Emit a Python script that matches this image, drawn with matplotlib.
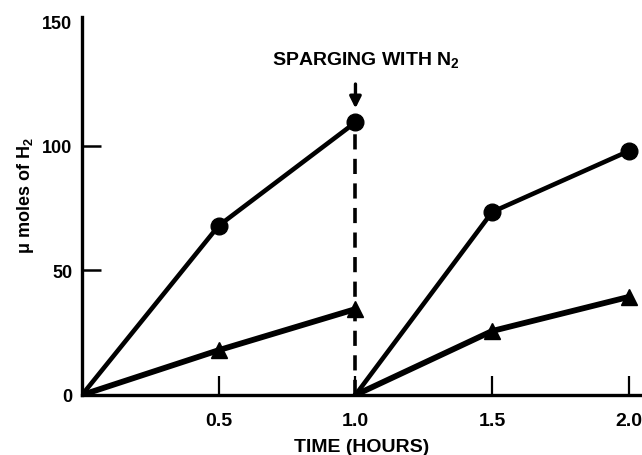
import matplotlib
matplotlib.use("Agg")
import matplotlib.pyplot as plt

# Datos (µmoles de H2 frente al tiempo en horas)
t_fase1 = [0.0, 0.5, 1.0]
t_fase2 = [1.0, 1.5, 2.0]
circ_fase1 = [0, 68, 109.5]
circ_fase2 = [0, 73.5, 98]
tri_fase1 = [0, 18, 34.5]
tri_fase2 = [0, 25.7, 39.4]

x_ticks = [0.5, 1.0, 1.5, 2.0]
x_tick_labels = ["0.5", "1.0", "1.5", "2.0"]
y_ticks = [0, 50, 100, 150]
t_sparging = 1.0

plt.rcParams['font.family'] = ['Liberation Sans', 'DejaVu Sans']
plt.rcParams['font.weight'] = 'bold'
plt.rcParams['mathtext.default'] = 'regular'

fig = plt.figure(figsize=(6.42, 4.56), dpi=100)
ax = fig.add_axes([0.1277, 0.1316, 0.869, 0.830])

# Curvas: líneas desde el origen, marcadores solo en los puntos medidos
for t, y in [(t_fase1, circ_fase1), (t_fase2, circ_fase2)]:
    ax.plot(t, y, color='black', lw=3.3, solid_capstyle='round', zorder=3)
    ax.plot(t[1:], y[1:], 'o', color='black', ms=12, clip_on=False, zorder=4)
for t, y in [(t_fase1, tri_fase1), (t_fase2, tri_fase2)]:
    ax.plot(t, y, color='black', lw=4.2, solid_capstyle='round', zorder=3)
    ax.plot(t[1:], y[1:], '^', color='black', ms=11, clip_on=False, zorder=4)

# Línea discontinua del burbujeo con N2
ax.plot([t_sparging, t_sparging], [0, circ_fase1[-1]], color='black',
        lw=2.6, dashes=(4.2, 2.6), zorder=2)
ax.annotate("", xy=(t_sparging, 114), xytext=(t_sparging, 126),
            arrowprops=dict(arrowstyle='-|>', color='black', lw=2.4,
                            mutation_scale=17))
ax.text(1.04, 135, "SPARGING WITH N$_2$", ha='center', va='center',
        fontsize=14, fontweight='bold')

ax.set_xlim(0, 2.04)
ax.set_ylim(0, 152)

for side in ['top', 'right']:
    ax.spines[side].set_visible(False)
for side in ['left', 'bottom']:
    ax.spines[side].set_linewidth(2.4)

ax.set_xticks(x_ticks)
ax.set_xticklabels(x_tick_labels)
ax.set_yticks(y_ticks)
ax.tick_params(axis='x', direction='in', length=14, width=1.6, pad=12,
               labelsize=14)
ax.tick_params(axis='y', direction='in', length=14, width=1.8, pad=7,
               labelsize=13)
# sin marca en 0 y 150
yt = ax.yaxis.get_major_ticks()
yt[0].tick1line.set_visible(False)
yt[-1].tick1line.set_visible(False)
for lab in ax.get_xticklabels() + ax.get_yticklabels():
    lab.set_fontweight('bold')

ax.set_xlabel("TIME (HOURS)", fontsize=14, fontweight='bold')
ax.xaxis.set_label_coords(0.502, -0.114)
ax.set_ylabel("\u03bc moles of H$_2$", fontsize=13, fontweight='bold')
ax.yaxis.set_label_coords(-0.082, 0.53)

fig.savefig("out.png", dpi=100)
